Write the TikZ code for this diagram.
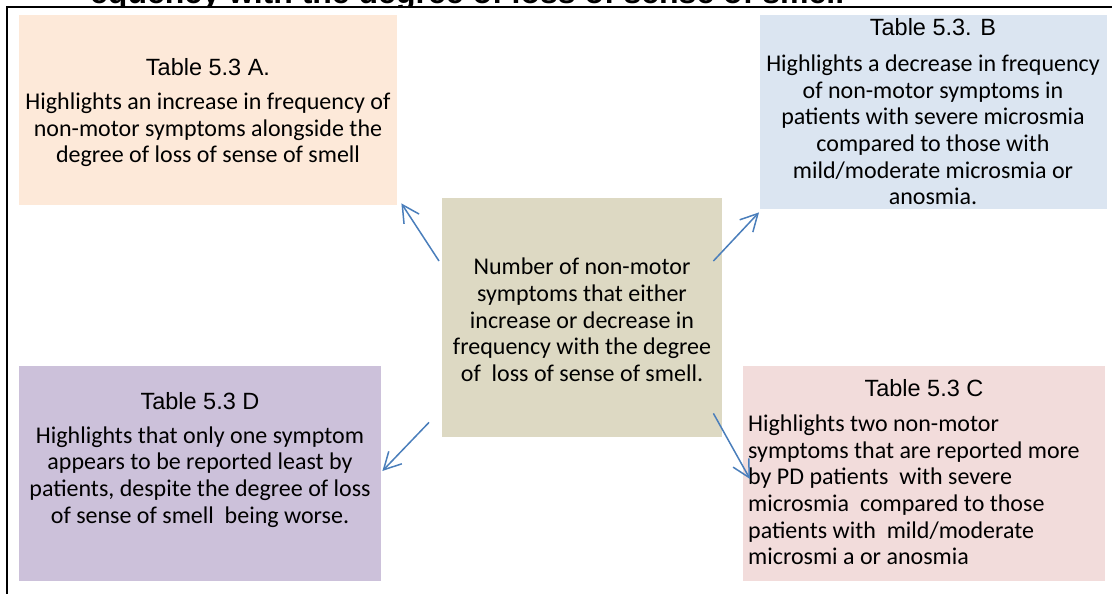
\documentclass[tikz,border=0pt]{standalone}
\usepackage{fontspec}
\setmainfont{Carlito}
\newfontfamily\arialfont{Liberation Sans}
\usetikzlibrary{arrows.meta}
\definecolor{peach}{HTML}{FDE9D9}
\definecolor{paleblue}{HTML}{DBE5F1}
\definecolor{khaki}{HTML}{DDD9C3}
\definecolor{lavender}{HTML}{CCC1DA}
\definecolor{rosepink}{HTML}{F2DCDB}
\definecolor{arrowblue}{HTML}{4A7EBB}
\begin{document}
\begin{tikzpicture}[x=1pt,y=-1pt,
  panel/.style={draw=none, inner sep=0pt, anchor=north west},
  heading/.style={font=\arialfont\fontsize{23.5}{28}\selectfont, inner sep=0pt},
  body/.style={font=\fontsize{24}{26.7}\selectfont, inner sep=0pt, align=center},
  link/.style={draw=arrowblue, line width=1.5pt, -{Straight Barb[length=17pt,width=18pt]}}]
\useasboundingbox (0,0) rectangle (1112,594);

% heading of the page, cut by the frame
\begin{scope}
  \clip (0,0) rectangle (1112,6);
  \node[font=\arialfont\bfseries\fontsize{32}{38}\selectfont, anchor=base west, inner sep=0pt]
    (hdr) at (90,3.5) {equency with the degree of loss of sense of smell};
\end{scope}
\draw[line width=2pt] (7,594) -- (7,7) -- (1112,7);

% coloured panels
\node[panel, fill=peach, minimum width=378pt, minimum height=190pt] (boxA) at (19,15) {};
\node[panel, fill=paleblue, minimum width=347pt, minimum height=194pt] (boxB) at (760,15) {};
\node[panel, fill=khaki, minimum width=280pt, minimum height=239pt] (ctr) at (442,198) {};
\node[panel, fill=lavender, minimum width=362pt, minimum height=215pt] (boxD) at (19,366) {};
\node[panel, fill=rosepink, minimum width=362pt, minimum height=215pt] (boxC) at (743,366) {};

% panel A
\node[heading] (tA) at (208,67) {Table 5.3 A.};
\node[body] (bA) at (208,130) {Highlights an increase in frequency of\\non-motor symptoms alongside the\\degree of loss of sense of smell};

% panel B
\node[heading] (tB) at (933,27) {Table 5.3. B};
\node[body] (bB) at (933,130) {Highlights a decrease in frequency\\of non-motor symptoms in\\patients with severe microsmia\\compared to those with\\mild/moderate microsmia or\\anosmia.};

% centre panel
\node[body] (bCtr) at (582,320) {Number of non-motor\\symptoms that either\\increase or decrease in\\frequency with the degree\\of\ \ loss of sense of smell.};

% panel D
\node[heading] (tD) at (200,401) {Table 5.3 D};
\node[body] (bD) at (200,477) {Highlights that only one symptom\\appears to be reported least by\\patients, despite the degree of loss\\of sense of smell\ \ being worse.};

% panel C
\node[heading] (tC) at (924,388) {Table 5.3 C};
\node[body, align=left, anchor=west] (bC) at (748,490) {Highlights two non-motor\\symptoms that are reported more\\by PD patients\ \ with severe\\microsmia\ \ compared to those\\patients with\ \ mild/moderate\\microsmi a or anosmia};

% connectors from the centre panel
\draw[link] ([shift={(-3,63)}]ctr.north west) -- ([shift={(4,-2)}]boxA.south east);
\draw[link] ([shift={(-9,63)}]ctr.north east) -- ([shift={(-1,3)}]boxB.south west);
\draw[link] ([shift={(-13,-15)}]ctr.south west) -- ([shift={(1,105)}]boxD.north east);
\draw[link] ([shift={(-9,-24)}]ctr.south east) -- ([shift={(7,113)}]boxC.north west);
\end{tikzpicture}
\end{document}
